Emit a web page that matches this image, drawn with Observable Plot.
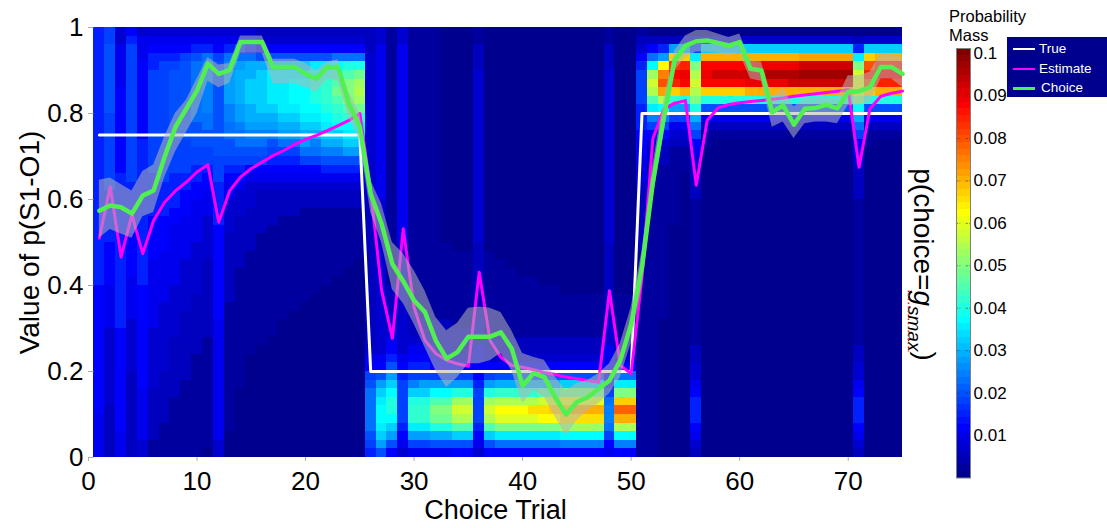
<!DOCTYPE html>
<html><head><meta charset="utf-8">
<script src="https://cdn.jsdelivr.net/npm/d3@7"></script>
<script src="https://cdn.jsdelivr.net/npm/@observablehq/plot@0.6"></script>
<style>
html,body{margin:0;padding:0;background:#fff;}
#wrap{position:relative;width:1107px;height:528px;overflow:hidden;font-family:"Liberation Sans",Arial,Helvetica,sans-serif;color:#000;}
#main{position:absolute;left:0;top:0;}
#cbar{position:absolute;left:940px;top:0;}
#cbtitle{position:absolute;left:949px;top:7px;font-size:16.5px;line-height:19px;}
#legend{position:absolute;left:1007px;top:37px;width:110px;height:60px;background:rgb(0,0,143);}
#legend .sw{position:absolute;left:6px;width:22px;}
#legend .lb{position:absolute;left:32px;font-size:13.5px;color:#fff;line-height:14px;}
</style>
</head><body><div id="wrap">
<div id="main"></div>
<div id="cbar"></div>
<div id="cbtitle">Probability<br>Mass</div>
<div id="legend">
  <div class="sw" style="top:11px;border-top:2px solid #fff"></div><div class="lb" style="top:5px">True</div>
  <div class="sw" style="top:31px;border-top:2px solid #ff00ff"></div><div class="lb" style="top:25px">Estimate</div>
  <div class="sw" style="top:50px;border-top:3px solid #50f050"></div><div class="lb" style="top:44px;left:34px">Choice</div>
</div>
</div>
<script>
// ---------------- data ----------------
const trials = [1,2,3,4,5,6,7,8,9,10,11,12,13,14,15,16,17,18,19,20,21,22,23,24,25,
  26,27,28,29,30,31,32,33,34,35,36,37,38,39,40,41,42,43,44,45,46,47,48,49,50,
  51,52,53,54,55,56,57,58,59,60,61,62,63,64,65,66,67,68,69,70,71,72,73,74,75];
const trueP = [0.75,0.75,0.75,0.75,0.75,0.75,0.75,0.75,0.75,0.75,0.75,0.75,0.75,0.75,0.75,0.75,0.75,0.75,0.75,0.75,0.75,0.75,0.75,0.75,0.75,
  0.2,0.2,0.2,0.2,0.2,0.2,0.2,0.2,0.2,0.2,0.2,0.2,0.2,0.2,0.2,0.2,0.2,0.2,0.2,0.2,0.2,0.2,0.2,0.2,0.2,
  0.8,0.8,0.8,0.8,0.8,0.8,0.8,0.8,0.8,0.8,0.8,0.8,0.8,0.8,0.8,0.8,0.8,0.8,0.8,0.8,0.8,0.8,0.8,0.8,0.8];
const estimate = [0.51,0.63,0.466,0.565,0.474,0.551,0.593,0.62,0.64,0.664,0.681,0.547,0.62,0.652,0.672,0.687,0.702,0.714,0.728,0.74,0.749,0.76,0.772,0.784,0.80,
  0.62,0.39,0.277,0.532,0.349,0.272,0.242,0.226,0.218,0.212,0.431,0.272,0.233,0.214,0.21,0.204,0.198,0.193,0.187,0.183,0.179,0.175,0.388,0.214,0.195,
  0.42,0.742,0.81,0.824,0.83,0.633,0.784,0.813,0.821,0.825,0.828,0.83,0.833,0.836,0.84,0.843,0.846,0.849,0.852,0.855,0.675,0.811,0.84,0.847,0.852];
const choice = [0.574,0.586,0.582,0.567,0.609,0.621,0.698,0.768,0.811,0.853,0.916,0.892,0.901,0.966,0.966,0.966,0.908,0.908,0.908,0.892,0.881,0.908,0.908,0.822,0.77,
  0.613,0.544,0.45,0.41,0.365,0.338,0.272,0.23,0.245,0.281,0.281,0.281,0.291,0.253,0.167,0.196,0.187,0.14,0.10,0.129,0.14,0.16,0.179,0.226,0.31,
  0.443,0.64,0.79,0.923,0.958,0.968,0.97,0.964,0.958,0.966,0.904,0.9,0.803,0.819,0.774,0.811,0.813,0.82,0.812,0.85,0.852,0.861,0.908,0.908,0.892];
const choiceLo = [0.51,0.53,0.52,0.51,0.56,0.57,0.65,0.71,0.755,0.80,0.875,0.86,0.87,0.94,0.94,0.94,0.87,0.87,0.87,0.86,0.85,0.88,0.875,0.79,0.735,
  0.57,0.50,0.39,0.358,0.31,0.256,0.202,0.163,0.186,0.218,0.218,0.225,0.242,0.202,0.125,0.156,0.14,0.094,0.05,0.086,0.109,0.125,0.148,0.186,0.265,
  0.395,0.60,0.75,0.90,0.93,0.943,0.943,0.94,0.935,0.94,0.88,0.875,0.768,0.78,0.742,0.776,0.78,0.78,0.776,0.819,0.819,0.826,0.88,0.88,0.861];
const choiceHi = [0.645,0.65,0.635,0.62,0.665,0.68,0.745,0.80,0.83,0.88,0.93,0.913,0.916,0.98,0.98,0.98,0.926,0.926,0.926,0.916,0.90,0.92,0.925,0.85,0.80,
  0.645,0.59,0.50,0.474,0.435,0.388,0.326,0.295,0.312,0.347,0.35,0.347,0.337,0.295,0.242,0.233,0.226,0.187,0.156,0.172,0.179,0.195,0.218,0.265,0.349,
  0.48,0.68,0.83,0.946,0.98,0.993,0.993,0.985,0.977,0.985,0.923,0.92,0.838,0.858,0.815,0.835,0.838,0.838,0.835,0.888,0.888,0.896,0.94,0.94,0.928];
// probability mass per trial, read top (value 1) to bottom (value 0) in 50 bins;
// each character is a level: index in LEVELS x 0.0025
const LEVELS = "0123456789abcdefghijklmnopqrstuvwxyzABCDE";
const massColumns = [
 "66666 66666 66666 66666 66666 66666 55555 55555 55555 44444",
 "77888 88888 77777 77776 66666 55555 44444 33333 33332 22222",
 "33444 44555 55555 55666 66666 66666 66666 55555 55555 55444",
 "56777 77777 77777 77766 66665 55554 44443 33333 22222 22222",
 "34445 55555 55566 66666 66666 66666 55555 55555 55444 44433",
 "34566 77777 77777 77666 66555 55444 44444 33333 33222 22211",
 "34567 77777 77777 77766 66555 54444 44333 33333 22222 21111",
 "34567 88888 88877 77666 65544 44444 33333 32222 22211 11111",
 "34578 88888 88877 77665 55444 44333 33322 22222 21111 11111",
 "34689 99999 98887 76655 44444 33333 32222 22211 11111 11111",
 "3469a aaaaa 99887 76554 44333 33222 22222 21111 11111 11110",
 "34578 88888 88888 77766 66655 55555 55554 44444 44444 44433",
 "3469a bbbba a9988 76544 33332 22222 22111 11111 11111 11000",
 "3479b ccccb ba998 76543 33222 22211 11111 11111 11000 00000",
 "3469c cdddc cba98 75433 32222 21111 11111 11100 00000 00000",
 "2358c ddddd cba98 75432 22221 11111 11111 11000 00000 00000",
 "2358d eeeed cba87 65432 22211 11111 11111 10000 00000 00000",
 "2358d eeeee dcb97 65432 22111 11111 11110 00000 00000 00000",
 "2358d efffe dcb97 65432 22111 11111 11100 00000 00000 00000",
 "2358d effff edcb9 75432 21111 11111 11000 00000 00000 00000",
 "2358e fgggf edca9 75432 21111 11111 10000 00000 00000 00000",
 "2358e ghhhg fedca 86432 21111 11111 00000 00000 00000 00000",
 "2359f hijih gfdca 86432 21111 11110 00000 00000 00000 00000",
 "2359g ikkki hfedb 86432 21111 11100 00000 00000 00000 00000",
 "2359g jlmlj hfedb 86432 21111 11000 00000 00000 00000 00000",
 "22233 33333 33333 33333 22222 22222 22222 22345 78999 99876",
 "33444 44444 44444 44444 33333 33333 33333 33345 8bdef fedb8",
 "11111 11111 11111 11111 11111 11111 22233 34568 bdfgg fdb85",
 "33444 44444 44444 44444 44444 33333 33333 33345 67777 76543",
 "11111 11111 11111 11111 11111 11111 11122 23456 7adgh heb74",
 "11111 11111 11111 11111 11111 11111 11112 23456 7bdgh heb74",
 "11111 11111 11111 11111 11111 11111 11112 22345 7bfik jgc84",
 "00000 00000 00000 00000 00000 11111 11112 22345 7bfik jgc84",
 "00000 00000 00000 00000 00000 01111 11111 22235 7bgln mid85",
 "00000 00000 00000 00000 00000 01111 11111 22235 7bgln mid85",
 "11222 33333 33333 33333 33333 22222 22223 33445 56777 76543",
 "00000 00000 00000 00000 00000 01111 11111 12235 7bgln mid85",
 "00000 00000 00000 00000 00000 00111 11111 12235 8chmp oke95",
 "00000 00000 00000 00000 00000 00011 11111 12235 8chmp oke95",
 "00000 00000 00000 00000 00000 00001 11111 12235 8chmp oke95",
 "00000 00000 00000 00000 00000 00001 11111 12235 8chmq oke95",
 "00000 00000 00000 00000 00000 00000 11111 12235 8cinq pke95",
 "00000 00000 00000 00000 00000 00000 11111 12235 8cinr pke95",
 "00000 00000 00000 00000 00000 00000 01111 12235 8djor qlfa5",
 "00000 00000 00000 00000 00000 00000 01111 12235 8djos qlfa5",
 "00000 00000 00000 00000 00000 00000 01111 12235 8djos qlfa5",
 "00000 00000 00000 00000 00000 00000 01111 12235 8djos qlfa5",
 "11222 33333 33333 33333 33333 22222 22223 33445 5679a a9754",
 "00000 00000 00000 00000 00000 00000 01111 12235 9ekrv smfa5",
 "00000 00000 00000 00000 00000 00000 01111 12235 9ekrv smfa5",
 "12356 77776 66555 44432 22222 21111 11111 11111 11111 11111",
 "0259f lnmie a7532 21111 11111 11111 11111 11111 11111 11111",
 "026bp uwtmf a7532 21111 11111 11111 11110 00000 00000 00000",
 "02brx zyrhb 74321 11111 11100 00000 00000 00000 00000 00000",
 "03cry Azsgb 74321 11000 00000 00000 00000 00000 00000 00000",
 "037ek mnmkg c9754 32222 11111 11111 11111 11223 34566 65432",
 "03dsz Azrg8 42110 00000 00000 00000 00000 00000 00000 00000",
 "03dsz Bzrg8 42100 00000 00000 00000 00000 00000 00000 00000",
 "03dsz Bzrg8 42100 00000 00000 00000 00000 00000 00000 00000",
 "03dsz Bzrg8 42100 00000 00000 00000 00000 00000 00000 00000",
 "03dsz BAsg8 42100 00000 00000 00000 00000 00000 00000 00000",
 "03dsA BAsg8 42100 00000 00000 00000 00000 00000 00000 00000",
 "03dsA CAsg8 42100 00000 00000 00000 00000 00000 00000 00000",
 "03dsA CAsg8 42100 00000 00000 00000 00000 00000 00000 00000",
 "03dsA CBsg8 42100 00000 00000 00000 00000 00000 00000 00000",
 "03dtB DBsg8 42100 00000 00000 00000 00000 00000 00000 00000",
 "03dtB DBsg8 42100 00000 00000 00000 00000 00000 00000 00000",
 "03dtB DBsg8 42100 00000 00000 00000 00000 00000 00000 00000",
 "03dtB DBsg8 42100 00000 00000 00000 00000 00000 00000 00000",
 "03dtB DBsg8 42100 00000 00000 00000 00000 00000 00000 00000",
 "026ek nonkf c9754 32222 11111 11111 11111 11223 34566 65432",
 "03drw ywrg8 42110 00000 00000 00000 00000 00000 00000 00000",
 "03dsy zysg8 42100 00000 00000 00000 00000 00000 00000 00000",
 "03dsy zysg8 42100 00000 00000 00000 00000 00000 00000 00000",
 "03dsy zysg8 42100 00000 00000 00000 00000 00000 00000 00000"
];
const xTicks = [0,10,20,30,40,50,60,70];
const yTicks = [0,0.2,0.4,0.6,0.8,1];
const cbarTicks = [0.01,0.02,0.03,0.04,0.05,0.06,0.07,0.08,0.09,0.1];
const colorMax = 0.1012;

// ---------------- colormap (MATLAB jet, 64 steps) ----------------
function jetColors(m) {
  const n = Math.ceil(m / 4), u = [];
  for (let i = 1; i <= n; i++) u.push(i / n);
  for (let i = 1; i < n; i++) u.push(1);
  for (let i = n; i >= 1; i--) u.push(i / n);
  const g0 = Math.ceil(n / 2) - (m % 4 === 1 ? 1 : 0);
  const R = new Array(m).fill(0), G = new Array(m).fill(0), B = new Array(m).fill(0);
  u.forEach((val, k) => {
    const g = g0 + k + 1, r = g + n, b = g - n;
    if (g >= 1 && g <= m) G[g - 1] = val;
    if (r >= 1 && r <= m) R[r - 1] = val;
    if (b >= 1 && b <= m) B[b - 1] = val;
  });
  return d3.range(m).map(i => d3.rgb(R[i] * 255, G[i] * 255, B[i] * 255).formatHex());
}
const jet = jetColors(64);
const thresholds = d3.range(1, 64).map(k => k * colorMax / 64);
const colorScale = {type: "threshold", domain: thresholds, range: jet};

// ---------------- tables ----------------
const NB = 50;
const cells = [];
massColumns.forEach((col, i) => {
  const s = col.replace(/\s+/g, "");
  for (let r = 0; r < NB; r++) {
    const ch = s[r] !== undefined ? s[r] : s[s.length - 1];
    cells.push({t: trials[i], top: 1 - r / NB, bot: 1 - (r + 1) / NB, m: Math.max(0, LEVELS.indexOf(ch)) * 0.0025});
  }
});
const series = trials.map((t, i) => ({t, trueP: trueP[i], est: estimate[i], ch: choice[i], lo: choiceLo[i], hi: choiceHi[i]}));

const font = "'Liberation Sans', Arial, Helvetica, sans-serif";
const main = Plot.plot({
  width: 940, height: 528,
  marginLeft: 88, marginRight: 38, marginTop: 27, marginBottom: 71,
  style: {fontFamily: font, background: "transparent", overflow: "visible", color: "#000"},
  x: {domain: [0, 75]},
  y: {domain: [0, 1]},
  color: colorScale,
  marks: [
    Plot.rect(cells, {x1: d => Math.max(d.t - 0.5, 0), x2: d => Math.min(d.t + 0.5, 75), y1: "bot", y2: "top", fill: "m", shapeRendering: "crispEdges"}),
    Plot.line(series, {x: "t", y: "trueP", stroke: "#ffffff", strokeWidth: 3}),
    Plot.line(series, {x: "t", y: "est", stroke: "#ff00ff", strokeWidth: 3, strokeLinejoin: "round"}),
    Plot.areaY(series, {x: "t", y1: "lo", y2: "hi", fill: "#b4b4b4", fillOpacity: 0.55}),
    Plot.line(series, {x: "t", y: "ch", stroke: "#50f050", strokeWidth: 4.5, strokeLinejoin: "round"}),
    Plot.ruleY(yTicks, {x1: 0, x2: 0.5, stroke: "#aaaaaa", strokeWidth: 1}),
    Plot.ruleX(xTicks, {y1: 0, y2: -0.009, stroke: "#aaaaaa", strokeWidth: 1}),
    Plot.axisX({ticks: xTicks, tickFormat: d => String(d), tickSize: 0, tickPadding: 14, fontSize: 26, label: null}),
    Plot.axisY({ticks: yTicks, tickFormat: d => String(d), tickSize: 0, tickPadding: 5, fontSize: 26, label: null}),
    Plot.text(["Value of p(S1-O1)"], {frameAnchor: "left", dx: -58, rotate: -90, fontSize: 28, textAnchor: "middle", lineAnchor: "middle"}),
    Plot.text(["Choice Trial"], {frameAnchor: "bottom", dy: 53, fontSize: 27, textAnchor: "middle", lineAnchor: "middle"}),
    Plot.text(["p(choice=gsmax)"], {frameAnchor: "right", dx: 20, dy: 22, rotate: 90, fontSize: 28, textAnchor: "middle", lineAnchor: "middle"})
  ]
});
document.getElementById("main").appendChild(main);

// rich text for the right-hand label (italic g with subscript smax, red dotted underline)
const rl = [...main.querySelectorAll("text")].find(e => e.textContent === "p(choice=gsmax)");
if (rl) {
  rl.textContent = "";
  const ns = "http://www.w3.org/2000/svg";
  const add = (txt, attrs) => { const ts = document.createElementNS(ns, "tspan"); ts.textContent = txt; for (const k in attrs) ts.setAttribute(k, attrs[k]); rl.appendChild(ts); };
  add("p(choice=", {});
  add("g", {"font-style": "italic"});
  add("smax", {"font-style": "italic", "font-size": "19", dy: "0.3em"});
  add(")", {dy: "-0.3em"});
  try {
    const p0 = rl.getStartPositionOfChar(9), p1 = rl.getEndPositionOfChar(13);
    const ln = document.createElementNS(ns, "line");
    ln.setAttribute("x1", p0.x); ln.setAttribute("x2", p1.x);
    ln.setAttribute("y1", p0.y + 5); ln.setAttribute("y2", p0.y + 5);
    ln.setAttribute("stroke", "#e02020"); ln.setAttribute("stroke-width", "1.6");
    ln.setAttribute("stroke-dasharray", "1.5,2.5");
    const tr = rl.getAttribute("transform");
    if (tr) ln.setAttribute("transform", tr);
    rl.parentNode.appendChild(ln);
  } catch (e) {}
}

// ---------------- colorbar ----------------
const bins = d3.range(64).map(k => ({lo: k * colorMax / 64, hi: (k + 1) * colorMax / 64, mid: (k + 0.5) * colorMax / 64}));
const cbar = Plot.plot({
  width: 70, height: 528,
  marginLeft: 16, marginRight: 40, marginTop: 48, marginBottom: 50.5,
  style: {fontFamily: font, background: "transparent", overflow: "visible", color: "#000"},
  x: {domain: [0, 1], axis: null},
  y: {domain: [0, colorMax]},
  color: colorScale,
  marks: [
    Plot.rect(bins, {x1: 0, x2: 1, y1: "lo", y2: "hi", fill: "mid", shapeRendering: "crispEdges"}),
    Plot.ruleY(cbarTicks, {x1: 0, x2: 0.3, stroke: "#222", strokeOpacity: 0.55, strokeDasharray: "2,1.5"}),
    Plot.ruleY(cbarTicks, {x1: 0.7, x2: 1, stroke: "#222", strokeOpacity: 0.55, strokeDasharray: "2,1.5"}),
    Plot.frame({stroke: "#808080"}),
    Plot.axisY({anchor: "right", ticks: cbarTicks, tickFormat: d => String(d), tickSize: 0, tickPadding: 3, fontSize: 17, label: null})
  ]
});
document.getElementById("cbar").appendChild(cbar);
</script>
</body></html>
